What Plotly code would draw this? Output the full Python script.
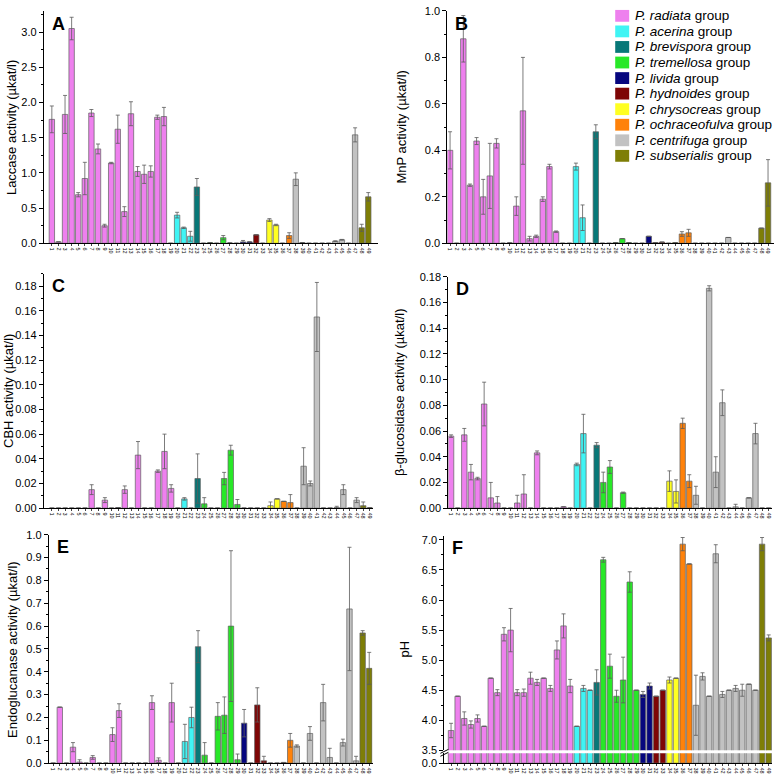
import plotly.graph_objects as go

# ---------------- data ----------------
strain_labels = [str(i) for i in range(1, 50)]
strain_pos = list(range(1, 50))

groups = ["P. radiata", "P. acerina", "P. brevispora", "P. tremellosa", "P. livida",
          "P. hydnoides", "P. chrysocreas", "P. ochraceofulva", "P. centrifuga", "P. subserialis"]
group_colors = ["#EE80EE", "#40F4F4", "#087878", "#28E828", "#06067E",
                "#7E0606", "#FFFF22", "#FF820A", "#C2C2C2", "#7E7E06"]
group_of_strain = [0]*19 + [1]*3 + [2] + [3]*6 + [4]*2 + [5]*2 + [6]*2 + [7]*2 + [8]*10 + [9]*2

laccase = [1.76,0.02,1.83,3.05,0.69,0.92,1.85,1.34,0.25,1.14,1.62,0.45,1.84,1.02,0.98,1.02,1.79,1.80,0,
           0.40,0.22,0.10, 0.80, 0,0.01,0,0.08,0.005,0, 0.02,0.02, 0.12,0, 0.33,0.26, 0,0.11,
           0.91,0.01,0,0,0,0,0.03,0.05,0,1.54, 0.22,0.66]
laccase_err = [0.19,None,0.27,0.16,0.03,0.23,0.05,0.07,0.02,0.01,0.20,0.07,0.17,0.07,0.13,0.08,0.03,0.13,None,
               0.04,0.01,0.07, 0.12, None,None,None,0.03,None,None, 0.02,None, None,None, 0.02,0.01, None,0.04,
               0.09,None,None,None,None,None,0.005,0.005,None,0.10, 0.05,0.06]

mnp = [0.40,0,0.88,0.25,0.44,0.20,0.29,0.43,0,0.002,0.16,0.57,0.02,0.03,0.19,0.33,0.05,0,0,
       0.33,0.11,0, 0.48, 0,0,0.003,0.02,0.003,0, 0,0.03, 0.003,0.005, 0,0.003, 0.04,0.045,
       0,0,0,0,0,0.025,0,0,0,0, 0.065,0.26]
mnp_err = [0.08,None,0.10,0.005,0.015,0.075,0.14,0.02,None,None,0.04,0.23,0.01,0.005,0.01,0.01,0.003,None,None,
           0.015,0.055,None, 0.03, None,None,None,None,None,None, None,None, None,None, None,None, 0.01,0.015,
           None,None,None,None,None,None,None,None,None,None, None,0.10]

cbh = [0,0,0,0,0,0,0.015,0,0.0065,0,0.0005,0.015,0,0.043,0,0,0.030,0.046,0.016,
       0,0.0075,0, 0.024, 0.0035,0,0,0.024,0.047,0.003, 0,0, 0,0, 0.002,0.0075, 0.0055,0.0045,
       0,0.034,0.020,0.155,0,0,0.0005,0.015,0,0.0065, 0.002,0.0003]
cbh_err = [None,None,None,None,None,None,0.004,None,0.002,None,None,0.003,None,0.011,None,None,0.001,0.014,0.003,
           None,0.001,None, 0.020, 0.005,None,None,0.005,0.004,0.004, None,None, None,None, 0.003,None, None,0.0065,
           None,0.015,0.002,0.028,None,None,0.001,0.004,None,0.002, 0.003,None]

bglu = [0.056,0,0.057,0.028,0.023,0.081,0.008,0.004,0,0,0.004,0.011,0,0.043,0,0,0,0.001,0,
        0.034,0.058,0, 0.049, 0.020,0.032,0,0.012,0,0, 0,0, 0,0, 0.021,0.013, 0.066,0.021,
        0.010,0,0.171,0.028,0.082,0,0.001,0,0.008,0.058, 0,0]
bglu_err = [0.001,None,0.005,0.006,0.001,0.017,0.012,0.005,None,None,0.006,0.015,None,0.0015,None,None,None,None,None,
            0.001,0.015,None, 0.002, 0.008,0.005,None,0.0005,None,None, None,None, None,None, 0.008,0.009, 0.004,0.005,
            0.007,None,0.002,0.012,0.010,None,0.002,None,None,0.008, None,None]

endo = [0,0.245,0,0.07,0.005,0,0.025,0,0,0.125,0.23,0,0,0,0,0.265,0.013,0,0.265,
        0,0.095,0.20, 0.51, 0.035,0,0.205,0.21,0.60,0.015, 0.175,0, 0.255,0.01, 0,0, 0.003,0.10,
        0.075,0,0.13,0,0.265,0.025,0,0.09,0.675,0.01, 0.57,0.415]
endo_err = [None,None,None,0.02,0.01,None,0.008,None,None,0.03,0.03,None,None,None,None,0.03,0.01,None,0.085,
            None,0.075,0.045, 0.07, 0.055,None,0.06,0.08,0.33,0.025, 0.06,None, 0.075,0.02, None,None, None,0.03,
            0.005,None,0.03,None,0.08,0.04,None,0.015,0.27,0.02, 0.01,0.07]

ph = [3.83,4.40,4.03,3.93,4.03,3.90,4.70,4.46,5.43,5.50,4.46,4.46,4.70,4.63,4.70,4.53,5.17,5.57,4.57,
      3.90,4.53,4.50, 4.63, 6.67,4.90,4.40,4.67,6.30,4.50, 4.43,4.57, 4.40,4.50, 4.67,4.70, 6.93,6.60,
      4.25,4.73,4.40,6.77,4.43,4.50,4.53,4.50,4.60,4.50, 6.93,5.37]
ph_err = [0.12,None,0.11,0.06,0.06,None,None,0.05,0.11,0.36,0.05,0.06,0.10,0.05,None,0.05,0.15,0.20,0.11,
          None,0.05,None, 0.21, 0.04,0.20,0.10,0.38,0.17,None, 0.05,0.05, None,None, 0.05,None, 0.11,None,
          0.50,0.06,None,0.15,0.05,None,0.05,0.10,None,None, 0.11,0.05]

# ---------------- layout helpers ----------------
W, H = 778, 779
FONT = "Arial, Liberation Sans, sans-serif"

def fx(p):
    return p / W

def fy(p):
    return 1 - p / H

panels = [
    dict(vals=laccase, err=laccase_err, title="Laccase activity (µkat/l)", letter="A",
         xpx=(44, 378), ypx=(5, 241), yr=[0, 3.3], dt=0.5, mdt=0.25, fmt=".1f", xr=[-0.2, 50.4], tx=11),
    dict(vals=mnp, err=mnp_err, title="MnP activity (µkat/l)", letter="B",
         xpx=(448, 775), ypx=(5, 241), yr=[0, 1.0], dt=0.2, mdt=0.1, fmt=".1f", xr=[0.6, 49.9], tx=402),
    dict(vals=cbh, err=cbh_err, title="CBH activity (µkat/l)", letter="C",
         xpx=(44, 373), ypx=(272, 510), yr=[0, 0.19], dt=0.02, mdt=0.01, fmt=".2f", xr=[-0.2, 49.4], tx=9),
    dict(vals=bglu, err=bglu_err, title="β-glucosidase activity (µkat/l)", letter="D",
         xpx=(449, 773), ypx=(275, 510), yr=[0, 0.18], dt=0.02, mdt=0.01, fmt=".2f", xr=[0.6, 49.5], tx=400),
    dict(vals=endo, err=endo_err, title="Endoglucanase activity (µkat/l)", letter="E",
         xpx=(49, 373), ypx=(537, 769), yr=[0, 1.0], dt=0.1, mdt=0.05, fmt=".1f", xr=[0.35, 49.5], tx=13),
    dict(vals=ph, err=ph_err, title="pH", letter="F",
         xpx=(445, 773), ypx=(538, 756), yr=[3.5, 7.07], dt=0.5, mdt=0.25, fmt=".1f", xr=[0.0, 49.5], tx=405),
]

fig = go.Figure()
layout = dict(width=W, height=H, margin=dict(l=0, r=0, t=0, b=0),
              paper_bgcolor="white", plot_bgcolor="white",
              barmode="overlay", showlegend=False,
              font=dict(family=FONT, color="black"))
annotations = []
shapes = []

def yaxis_common(p):
    return dict(range=p["yr"], dtick=p["dt"], tick0=p["yr"][0], tickformat=p["fmt"],
                showline=True, linecolor="black", linewidth=1.3, ticks="outside", ticklen=4,
                tickwidth=1, tickcolor="black", showgrid=False, zeroline=False,
                tickfont=dict(size=11, family=FONT),
                minor=dict(ticks="outside", ticklen=2, dtick=p["mdt"], tickcolor="black"))

def add_bars(xa, ya, vals, err, with_err=True):
    for g in range(len(groups)):
        xs = [strain_pos[i] for i in range(49) if group_of_strain[i] == g]
        ys = [vals[i] for i in range(49) if group_of_strain[i] == g]
        es = [err[i] for i in range(49) if group_of_strain[i] == g]
        kw = {}
        if with_err:
            kw["error_y"] = dict(type="data", array=es, visible=True, color="#5a5a5a",
                                 thickness=0.8, width=2)
        fig.add_trace(go.Bar(x=xs, y=ys, xaxis=xa, yaxis=ya, width=0.82,
                             marker=dict(color=group_colors[g], line=dict(color="#606060", width=0.7)),
                             name=groups[g] + " group", **kw))

for k, p in enumerate(panels, start=1):
    xa = "x" if k == 1 else f"x{k}"
    ya = "y" if k == 1 else f"y{k}"
    xkey = "xaxis" if k == 1 else f"xaxis{k}"
    ykey = "yaxis" if k == 1 else f"yaxis{k}"
    add_bars(xa, ya, p["vals"], p["err"])
    yax = yaxis_common(p)
    yax.update(domain=[fy(p["ypx"][1]), fy(p["ypx"][0])], anchor=xa)
    layout[ykey] = yax
    xax = dict(domain=[fx(p["xpx"][0]), fx(p["xpx"][1])], range=p["xr"],
               tickmode="array", tickvals=strain_pos, ticktext=strain_labels, tickangle=90,
               tickfont=dict(size=5.5, family=FONT), ticks="outside", ticklen=2, tickwidth=0.6,
               showline=True, linecolor="black", linewidth=1.3, showgrid=False, zeroline=False,
               anchor=ya)
    if k == 6:
        xax["anchor"] = "y7"
    layout[xkey] = xax
    annotations.append(dict(text=p["title"], textangle=-90, x=fx(p["tx"]),
                            y=fy((p["ypx"][0] + p["ypx"][1]) / 2 + (6 if k == 6 else 0)),
                            xref="paper", yref="paper", showarrow=False,
                            font=dict(size=13, family=FONT), xanchor="center", yanchor="middle"))
    annotations.append(dict(text="<b>" + p["letter"] + "</b>", x=fx(p["xpx"][0] + 6),
                            y=fy(p["ypx"][0] + 1 if k < 3 else p["ypx"][0]),
                            xref="paper", yref="paper", showarrow=False, xanchor="left", yanchor="top",
                            font=dict(size=18, family=FONT)))

# lower segment of broken pH axis
add_bars("x6", "y7", ph, ph_err, with_err=False)
layout["yaxis7"] = dict(domain=[fy(769), fy(759)], range=[0, 0.5], anchor="x6",
                        tickmode="array", tickvals=[0], ticktext=["0.0"],
                        showline=True, linecolor="black", linewidth=1.3, ticks="outside", ticklen=4,
                        tickcolor="black", showgrid=False, zeroline=False,
                        tickfont=dict(size=11, family=FONT))
for dy in (0, 3):
    shapes.append(dict(type="line", xref="paper", yref="paper",
                       x0=fx(441), y0=fy(760 + dy - 1), x1=fx(449), y1=fy(756 + dy - 1),
                       line=dict(color="black", width=1)))

# manual legend inside panel B
for i, g in enumerate(groups):
    yc = 10 + 15.8 * i
    shapes.append(dict(type="rect", xref="paper", yref="paper",
                       x0=fx(616), x1=fx(630), y0=fy(yc + 6), y1=fy(yc - 6),
                       fillcolor=group_colors[i], line=dict(width=0)))
    annotations.append(dict(text="<i>" + g + "</i> group", x=fx(634), y=fy(yc),
                            xref="paper", yref="paper", showarrow=False,
                            xanchor="left", yanchor="middle",
                            font=dict(size=13.5, family=FONT)))

layout["annotations"] = annotations
layout["shapes"] = shapes
fig.update_layout(**layout)
fig.write_html("out.html", config={"displayModeBar": False},
               post_script="document.body.style.margin='0';document.body.style.overflow='hidden';")
